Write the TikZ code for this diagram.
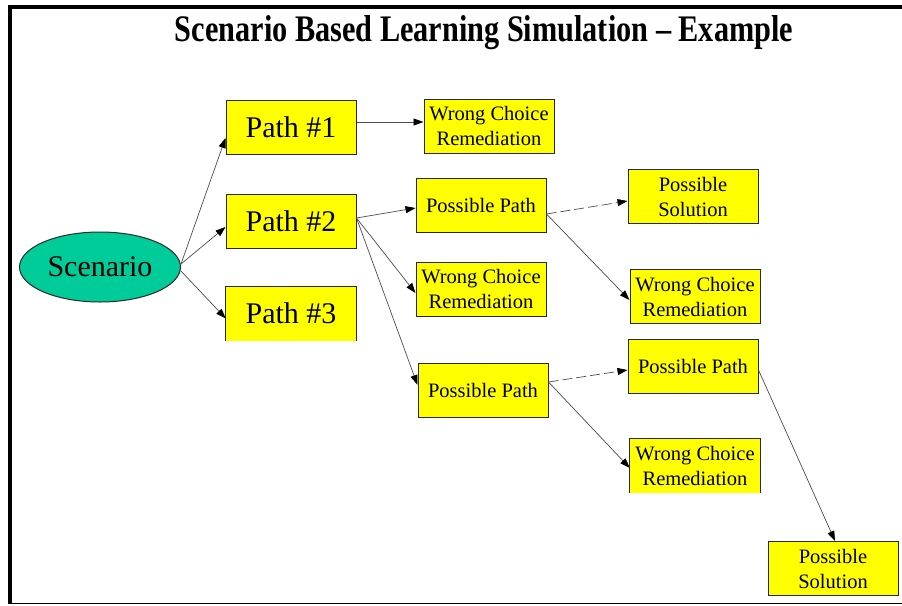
\documentclass[tikz,border=0pt]{standalone}
\usepackage{fontspec}
\setmainfont{Liberation Serif}
\usetikzlibrary{arrows.meta,shapes.geometric}
\definecolor{boxyellow}{RGB}{255,255,0}
\definecolor{scteal}{RGB}{0,204,153}
\definecolor{edgegray}{RGB}{40,40,40}
\tikzset{
  box/.style={draw=edgegray, line width=1pt, fill=boxyellow, minimum width=130pt, minimum height=54pt, inner sep=0pt, align=center, font=\fontsize{20.5}{25}\selectfont},
  openbox/.style={fill=boxyellow, minimum width=130pt, minimum height=54pt, inner sep=0pt, align=center, font=\fontsize{20.5}{25}\selectfont},
  bigbox/.style={font=\fontsize{30}{34}\selectfont},
  conn/.style={draw=black!70, line width=0.7pt, -{Triangle[length=10pt,width=7pt,color=black]}},
  dconn/.style={conn, dash pattern=on 10pt off 4pt},
}
\begin{document}
\begin{tikzpicture}[x=1pt,y=-1pt]
\useasboundingbox (0,0) rectangle (902,605);
\fill[white] (0,0) rectangle (902,605);
% frame
\fill[black] (8,5) rectangle (902,9);
\fill[black] (8,5) rectangle (12,604);
\fill[black] (8,602.5) rectangle (902,604);
% title
\node (title) at (484,33) {\resizebox{618pt}{26pt}{\bfseries Scenario Based Learning Simulation -- Example}};
% nodes
\node[ellipse, draw=edgegray, line width=1pt, fill=scteal, minimum width=161pt, minimum height=70pt, inner sep=0pt, font=\fontsize{30}{34}\selectfont] (sc) at (100,267) {Scenario};
\node[box, bigbox] (p1) at (291,127) {Path \#1};
\node[box, bigbox] (p2) at (291,221) {Path \#2};
\node[openbox, bigbox] (p3) at (291,313.5) {Path \#3};
\draw[draw=edgegray, line width=1pt] (p3.south west) -- (p3.north west) -- (p3.north east) -- (p3.south east);
\node[box] (wcr1) at (489,126) {Wrong Choice\\Remediation};
\node[box] (pp1) at (481,205) {Possible Path};
\node[box] (wcr2) at (481,289) {Wrong Choice\\Remediation};
\node[box] (pp2) at (483,390) {Possible Path};
\node[box] (ps1) at (693,196.5) {Possible\\Solution};
\node[box] (wcr3) at (695,296.5) {Wrong Choice\\Remediation};
\node[box] (pp3) at (693,366) {Possible Path};
\node[openbox] (wcr4) at (695,465.5) {Wrong Choice\\Remediation};
\draw[draw=edgegray, line width=1pt] (wcr4.south west) -- (wcr4.north west) -- (wcr4.north east) -- (wcr4.south east);
\node[box] (ps2) at (833,568.5) {Possible\\Solution};
% connectors
\draw[conn] ([yshift=3pt]sc.east) -- ([yshift=-11pt]p1.west);
\draw[conn] ([yshift=3pt]sc.east) -- ([yshift=-6pt]p2.west);
\draw[conn] ([yshift=-4pt]sc.east) -- ([yshift=-5pt]p3.west);
\draw[conn] ([yshift=5pt]p1.east) -- ([yshift=4pt]wcr1.west);
\draw[conn] ([yshift=3pt]p2.east) -- ([yshift=-3pt]pp1.west);
\draw[conn] ([yshift=3pt]p2.east) -- ([yshift=-4pt]wcr2.west);
\draw[conn] ([yshift=3pt]p2.east) -- ([yshift=5pt]pp2.west);
\draw[dconn] ([yshift=-9pt]pp1.east) -- ([yshift=-4.5pt]ps1.west);
\draw[conn] ([yshift=-9pt]pp1.east) -- ([yshift=-3.5pt]wcr3.west);
\draw[dconn] ([yshift=8pt]pp2.east) -- ([yshift=-4pt]pp3.west);
\draw[conn] ([yshift=8pt]pp2.east) -- ([yshift=-2.5pt]wcr4.west);
\draw[conn] ([yshift=-4pt]pp3.east) -- ([xshift=2pt]ps2.north);
\end{tikzpicture}
\end{document}
